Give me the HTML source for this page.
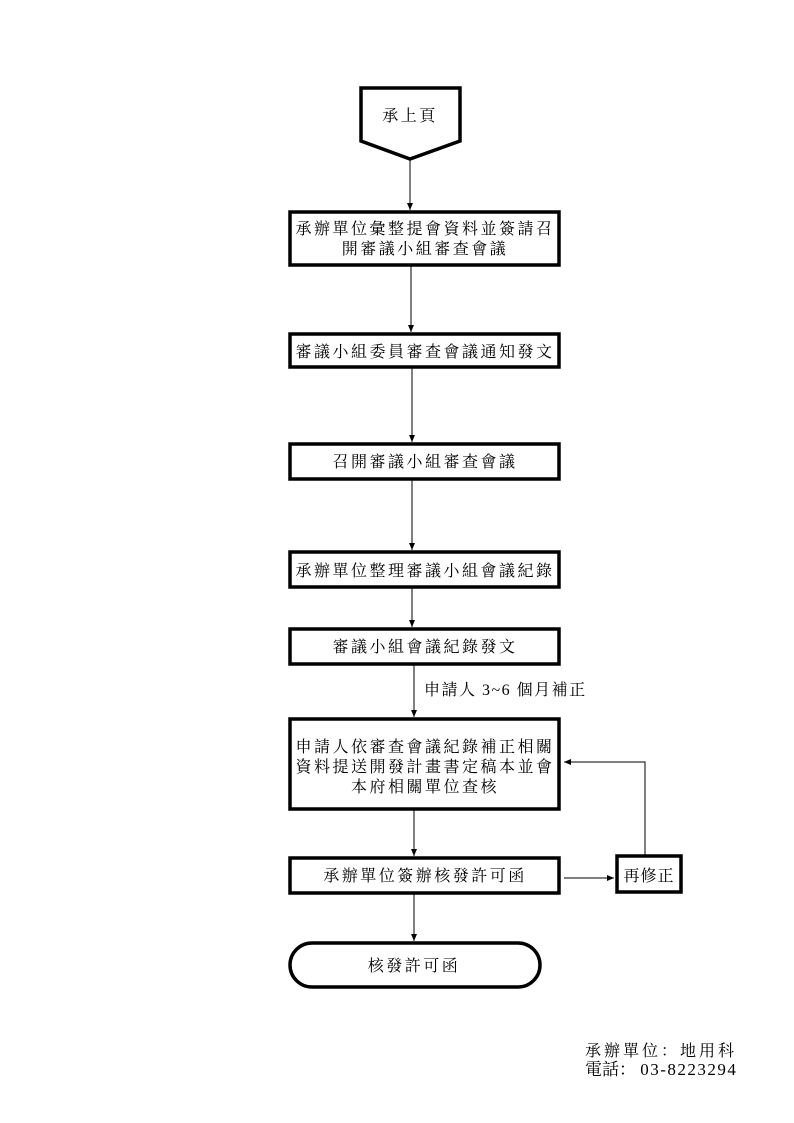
<!DOCTYPE html>
<html><head><meta charset="utf-8"><style>
html,body{margin:0;padding:0;background:#fff;}
svg{display:block;}
text{font-family:"Liberation Serif","Noto Serif CJK SC",serif;font-size:16px;fill:#000;letter-spacing:2.5px;}
</style></head><body>
<svg width="794" height="1123" viewBox="0 0 794 1123" xmlns="http://www.w3.org/2000/svg">
<defs><marker id="a" markerWidth="8" markerHeight="8" refX="7" refY="4" orient="auto" markerUnits="userSpaceOnUse"><path d="M0,1 L7,4 L0,7 Z" fill="#000"/></marker></defs>
<g fill="none" stroke="#000" stroke-width="3.5">
<polygon points="361,88 460,88 460,141 410,159 361,141"/>
<rect x="290" y="212" width="269" height="53"/>
<rect x="290" y="334" width="269" height="33"/>
<rect x="290" y="444" width="269" height="35"/>
<rect x="290" y="552" width="269" height="35"/>
<rect x="290" y="629" width="269" height="35"/>
<rect x="290" y="719" width="269" height="90"/>
<rect x="290" y="858" width="269" height="35"/>
<rect x="617" y="856" width="64" height="36"/>
<rect x="290" y="943" width="250" height="44" rx="22" ry="22"/>
</g>
<g stroke="#000" stroke-width="1" fill="none" marker-end="url(#a)">
<line x1="410" y1="160" x2="410" y2="210"/>
<line x1="411" y1="266" x2="411" y2="332"/>
<line x1="412" y1="368" x2="412" y2="442"/>
<line x1="412" y1="479" x2="412" y2="550"/>
<line x1="412" y1="588" x2="412" y2="627"/>
<line x1="414" y1="665" x2="414" y2="717"/>
<line x1="414" y1="810" x2="414" y2="856"/>
<line x1="414" y1="894" x2="414" y2="941"/>
<line x1="564" y1="878" x2="614" y2="878"/>
<polyline points="645,855 645,762 564,762"/>
</g>
<text x="410" y="121" text-anchor="middle">承上頁</text>
<text x="425" y="234" text-anchor="middle">承辦單位彙整提會資料並簽請召</text>
<text x="425" y="254" text-anchor="middle">開審議小組審查會議</text>
<text x="425" y="357" text-anchor="middle">審議小組委員審查會議通知發文</text>
<text x="425" y="467" text-anchor="middle">召開審議小組審查會議</text>
<text x="425" y="576" text-anchor="middle">承辦單位整理審議小組會議紀錄</text>
<text x="425" y="652" text-anchor="middle">審議小組會議紀錄發文</text>
<text x="424" y="695" style="letter-spacing:1.5px">申請人 3~6 個月補正</text>
<text x="425" y="752" text-anchor="middle">申請人依審查會議紀錄補正相關</text>
<text x="425" y="772" text-anchor="middle">資料提送開發計畫書定稿本並會</text>
<text x="425" y="792" text-anchor="middle">本府相關單位查核</text>
<text x="425" y="881" text-anchor="middle">承辦單位簽辦核發許可函</text>
<text x="649" y="881" text-anchor="middle" style="letter-spacing:1px">再修正</text>
<text x="414" y="971" text-anchor="middle">核發許可函</text>
<text x="585" y="1056" style="letter-spacing:3px">承辦單位：地用科</text>
<text x="585" y="1075" style="letter-spacing:0px;font-size:17px">電話： <tspan style="letter-spacing:1.5px">03-8223294</tspan></text>
</svg>
</body></html>
